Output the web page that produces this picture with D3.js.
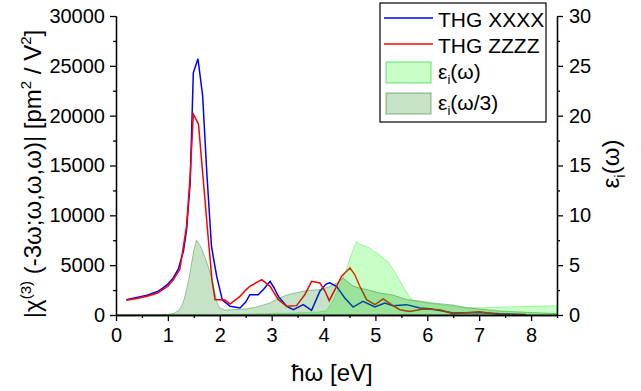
<!DOCTYPE html>
<html>
<head>
<meta charset="utf-8">
<script src="https://cdn.jsdelivr.net/npm/d3@7"></script>
<style>
  body { margin: 0; background: #fff; }
  svg text { font-family: "Liberation Sans", Arial, sans-serif; fill: #000; }
</style>
</head>
<body>
<div id="chart"></div>
<script>
// THG |chi(3)| spectra, pm^2/V^2
const xxxxE = [0.2,0.4,0.6,0.8,0.9,1.0,1.1,1.2,1.3,1.36,1.43,1.49,1.58,1.67,1.75,1.84,1.94,2.05,2.2,2.39,2.5,2.58,2.74,2.85,2.97,3.05,3.13,3.29,3.42,3.61,3.77,3.93,4.05,4.12,4.25,4.41,4.57,4.76,4.99,5.18,5.34,5.6,5.86,6.05,6.24,6.5,7.0,7.4,7.9];
const xxxxV = [1540,1750,1980,2350,2700,3100,3700,4600,6400,8500,13300,24300,25700,22000,14300,6900,3900,1500,870,700,1300,2040,2040,2600,3380,2700,1870,870,530,1040,460,2380,3100,3220,2880,1710,800,1370,800,1210,940,1040,700,620,460,200,260,130,30];

const zzzzE = [0.2,0.4,0.6,0.8,0.9,1.0,1.1,1.23,1.36,1.43,1.49,1.59,1.67,1.78,1.85,1.91,2.0,2.1,2.2,2.39,2.5,2.58,2.81,2.97,3.13,3.29,3.48,3.64,3.77,3.93,4.03,4.11,4.22,4.35,4.51,4.6,4.7,4.83,4.99,5.15,5.31,5.47,5.66,5.92,6.24,6.5,7.0,7.4,7.9];
const zzzzV = [1470,1650,1880,2200,2550,2900,3500,4560,8920,14000,20170,19160,14300,7580,3500,1540,1540,1500,1100,1870,2500,2880,3550,2880,1540,870,940,2040,3380,3220,2380,1440,2550,3890,4730,4060,2880,1540,1040,1610,1040,530,360,600,530,130,330,60,50];

// imaginary dielectric function
const epsE = [0,1.9,2.2,2.6,3.0,3.4,3.7,3.9,4.05,4.18,4.31,4.44,4.55,4.64,4.7,4.8,4.9,4.96,5.05,5.15,5.25,5.34,5.43,5.53,5.63,5.73,5.85,6.0,6.3,6.75,7.2,7.8,8.2,8.5];
const epsV = [0,0,0.05,0.1,0.15,0.2,0.25,0.3,0.4,1.4,2.9,4.6,6.3,7.4,7.1,6.9,6.7,6.4,6.2,5.7,5.3,4.6,3.8,2.9,2.0,1.4,1.3,1.2,1.0,0.7,0.75,0.85,0.9,0.94];

const eps3E = [0,0.8,1.0,1.1,1.2,1.28,1.33,1.4,1.45,1.5,1.55,1.59,1.62,1.65,1.7,1.73,1.78,1.82,1.87,1.91,1.95,2.0,2.1,2.3,2.5,2.7,2.97,3.1,3.29,3.45,3.61,3.8,3.93,4.1,4.25,4.38,4.47,4.57,4.7,4.83,5.09,5.34,5.6,5.86,6.11,6.5,6.75,7.0,7.4,8.0,8.5];
const eps3V = [0,0,0.05,0.15,0.4,1.0,1.9,3.5,5.0,6.5,7.5,7.2,7.0,6.7,6.0,5.6,4.8,4.2,3.2,2.2,1.2,0.7,0.5,0.55,0.6,0.8,1.2,1.6,2.0,2.2,2.4,2.5,2.55,2.8,3.2,3.7,3.3,2.9,2.7,2.55,2.2,2.0,1.55,1.4,1.2,1.0,0.75,0.6,0.4,0.25,0.15];

const xTicks = [0,1,2,3,4,5,6,7,8];
const yLeftTicks = [0,5000,10000,15000,20000,25000,30000];
const yRightTicks = [0,5,10,15,20,25,30];
const legendLabels = ["THG XXXX", "THG ZZZZ", "εi(ω)", "εi(ω/3)"];

const W = 641, H = 391;
const m = {left: 116, right: 84, top: 16, bottom: 76};

const svg = d3.select("#chart").append("svg")
  .attr("width", W).attr("height", H);

const x = d3.scaleLinear().domain([0, 8.5]).range([m.left, W - m.right]);
const yL = d3.scaleLinear().domain([0, 30000]).range([H - m.bottom, m.top]);
const yR = d3.scaleLinear().domain([0, 30]).range([H - m.bottom, m.top]);

const zip = (a, b) => a.map((d, i) => [d, b[i]]);

const line = d3.line().x(d => x(d[0])).y(d => yL(d[1]));
const area = d3.area().x(d => x(d[0])).y0(yR(0)).y1(d => yR(d[1]));

// lines first, the shaded areas sit on top of them
svg.append("path").datum(zip(xxxxE, xxxxV))
  .attr("d", line).attr("fill", "none").attr("stroke", "#0000ff").attr("stroke-width", 1.5);
svg.append("path").datum(zip(zzzzE, zzzzV))
  .attr("d", line).attr("fill", "none").attr("stroke", "#ff0000").attr("stroke-width", 1.5);

svg.append("path").datum(zip(epsE, epsV))
  .attr("d", area).attr("fill", "rgba(0,255,0,0.22)")
  .attr("stroke", "rgba(0,220,0,0.3)").attr("stroke-width", 1);
svg.append("path").datum(zip(eps3E, eps3V))
  .attr("d", area).attr("fill", "rgba(0,128,0,0.22)")
  .attr("stroke", "rgba(0,110,0,0.35)").attr("stroke-width", 1);

// axes
const fs = "20px";
svg.append("g").attr("transform", `translate(0,${H - m.bottom})`)
  .call(d3.axisBottom(x).tickValues(xTicks).tickFormat(d3.format("d")).tickSize(6).tickPadding(7));
svg.append("g").attr("transform", `translate(0,${H - m.bottom})`)
  .call(d3.axisBottom(x).tickValues(d3.range(0.5, 8.6, 1)).tickFormat("").tickSize(3));

svg.append("g").attr("transform", `translate(${m.left},0)`)
  .call(d3.axisLeft(yL).tickValues(yLeftTicks).tickFormat(d3.format("d")).tickSize(6).tickPadding(5));
svg.append("g").attr("transform", `translate(${m.left},0)`)
  .call(d3.axisLeft(yL).tickValues(d3.range(2500, 30000, 5000)).tickFormat("").tickSize(3));

svg.append("g").attr("transform", `translate(${W - m.right},0)`)
  .call(d3.axisRight(yR).tickValues(yRightTicks).tickFormat(d3.format("d")).tickSize(6).tickPadding(6));
svg.append("g").attr("transform", `translate(${W - m.right},0)`)
  .call(d3.axisRight(yR).tickValues(d3.range(2.5, 30, 5)).tickFormat("").tickSize(3));

svg.selectAll(".tick text").style("font-size", fs).style("font-family", '"Liberation Sans", Arial, sans-serif');
svg.selectAll(".domain").attr("stroke-width", 1.3);
svg.selectAll(".tick line").attr("stroke-width", 1.3);
// d3 domain path draws outer ticks, hide them
svg.selectAll(".domain").each(function() {
  const p = d3.select(this);
  const d = p.attr("d");
  p.attr("d", d.replace(/M[-\d.]+,([-\d.]+)H([-\d.]+)V([-\d.]+)H[-\d.]+/, "M$2,$1V$3")
               .replace(/M([-\d.]+),[-\d.]+V([-\d.]+)H([-\d.]+)V[-\d.]+/, "M$1,$2H$3"));
});

// axis titles
svg.append("text")
  .attr("x", 332).attr("y", 381)
  .attr("text-anchor", "middle").style("font-size", "24px")
  .text("ħω [eV]");

const lt = svg.append("text")
  .attr("transform", "translate(41,174) rotate(-90)")
  .attr("text-anchor", "middle").style("font-size", "24px");
lt.append("tspan").text("|χ");
lt.append("tspan").attr("dy", -10).style("font-size", "15px").text("(3)");
lt.append("tspan").attr("dy", 10).text(" (-3ω;ω,ω,ω)| [pm");
lt.append("tspan").attr("dy", -10).style("font-size", "15px").text("2");
lt.append("tspan").attr("dy", 10).text(" / V");
lt.append("tspan").attr("dy", -10).style("font-size", "15px").text("2");
lt.append("tspan").attr("dy", 10).text("]");

const rt = svg.append("text")
  .attr("transform", "translate(619,164) rotate(-90)")
  .attr("text-anchor", "middle").style("font-size", "24px");
rt.append("tspan").text("ε");
rt.append("tspan").attr("dy", 6).style("font-size", "15px").text("i");
rt.append("tspan").attr("dy", -6).text("(ω)");

// legend
const lg = svg.append("g").attr("transform", "translate(380,3)");
lg.append("rect").attr("width", 166).attr("height", 119)
  .attr("fill", "#fff").attr("stroke", "#000").attr("stroke-width", 1.2);

const lineCols = ["#0000ff", "#ff0000"];
const swFill = ["rgba(0,255,0,0.22)", "rgba(0,128,0,0.22)"];
const swStroke = ["rgba(0,190,0,0.35)", "rgba(0,100,0,0.3)"];
const rowY = [15, 41, 69, 100];

legendLabels.forEach((lab, i) => {
  if (i < 2) {
    lg.append("line").attr("x1", 4).attr("x2", 53).attr("y1", rowY[i]).attr("y2", rowY[i])
      .attr("stroke", lineCols[i]).attr("stroke-width", 1.5);
    lg.append("text").attr("x", 58).attr("y", rowY[i] + 9).style("font-size", "21px").text(lab);
  } else {
    lg.append("rect").attr("x", 6).attr("y", rowY[i] - 10).attr("width", 45).attr("height", 21)
      .attr("fill", swFill[i - 2]).attr("stroke", swStroke[i - 2]).attr("stroke-width", 1.5);
    const t = lg.append("text").attr("x", 58).attr("y", rowY[i] + 7).style("font-size", "21px");
    t.append("tspan").text("ε");
    t.append("tspan").attr("dy", 5).style("font-size", "13px").text("i");
    t.append("tspan").attr("dy", -5).text(lab.slice(2));
  }
});
</script>
</body>
</html>
